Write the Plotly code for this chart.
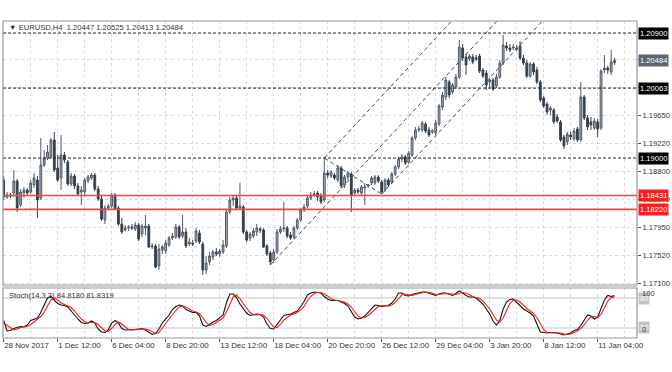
import plotly.graph_objects as go

# ---------------- data ----------------
opens = [1.18666,1.18408,1.18438,1.18468,1.18651,1.18286,1.18468,1.18514,1.18484,1.18590,
1.18666,1.18392,1.18894,1.19000,1.19016,1.19274,1.18848,1.18696,1.19046,1.18940,
1.18605,1.18727,1.18575,1.18484,1.18484,1.18651,1.18696,1.18742,1.18529,1.18377,
1.18058,1.18240,1.18271,1.18438,1.18240,1.17997,1.17906,1.17936,1.17952,1.17921,
1.17982,1.17845,1.17936,1.17967,1.17648,1.17663,1.17359,1.17602,1.17587,1.17678,
1.17784,1.17800,1.17952,1.17815,1.17876,1.17693,1.17708,1.17739,1.17860,1.17693,
1.17298,1.17420,1.17496,1.17572,1.17541,1.17572,1.17663,1.18180,1.18362,1.18392,
1.18240,1.18256,1.17876,1.17784,1.17815,1.17876,1.17921,1.17906,1.17663,1.17556,
1.17450,1.17572,1.17876,1.17921,1.17936,1.17830,1.17800,1.17936,1.18058,1.18210,
1.18271,1.18392,1.18438,1.18468,1.18423,1.18362,1.18772,1.18727,1.18742,1.18666,
1.18848,1.18590,1.18712,1.18757,1.18468,1.18514,1.18468,1.18544,1.18575,1.18620,
1.18620,1.18712,1.18636,1.18514,1.18666,1.18636,1.18757,1.18864,1.18985,1.19016,
1.18940,1.19046,1.19304,1.19426,1.19426,1.19517,1.19426,1.19396,1.19380,1.19517,
1.19776,1.19928,1.20156,1.20004,1.20080,1.20232,1.20672,1.20536,1.20505,1.20536,
1.20520,1.20551,1.20338,1.20292,1.20156,1.20186,1.20095,1.20232,1.20444,1.20703,
1.20672,1.20672,1.20672,1.20703,1.20520,1.20444,1.20247,1.20429,1.20338,1.20156,
1.19912,1.19821,1.19730,1.19730,1.19624,1.19548,1.19320,1.19244,1.19350,1.19289,
1.19441,1.19274,1.19928,1.19608,1.19548,1.19456,1.19548,1.19456,1.20338,1.20368,
1.20308,1.20447]
highs = [1.18727,1.18484,1.18468,1.18818,1.18681,1.18529,1.18560,1.18544,1.18666,1.18772,
1.18727,1.19304,1.19122,1.19198,1.19304,1.19396,1.19046,1.19350,1.19092,1.18970,
1.18772,1.18757,1.18620,1.18575,1.18696,1.18742,1.18772,1.18772,1.18575,1.18423,
1.18286,1.18301,1.18468,1.18468,1.18271,1.18088,1.17982,1.17982,1.17997,1.18028,
1.18012,1.17997,1.18134,1.17997,1.17708,1.17693,1.17693,1.17678,1.17754,1.17815,
1.17860,1.17997,1.17982,1.18134,1.17936,1.17784,1.17754,1.17936,1.17906,1.17724,
1.17511,1.17572,1.17602,1.17632,1.17617,1.17754,1.18210,1.18408,1.18423,1.18423,
1.18620,1.18286,1.17906,1.17876,1.17936,1.17997,1.17952,1.17936,1.17693,1.17587,
1.17617,1.17921,1.17967,1.18332,1.17967,1.17876,1.17967,1.18088,1.18240,1.18301,
1.18423,1.18484,1.18499,1.18499,1.18468,1.19000,1.18818,1.18818,1.18772,1.18894,
1.18879,1.18742,1.18803,1.18788,1.18544,1.18544,1.18590,1.18620,1.18605,1.18727,
1.18742,1.18742,1.18666,1.18696,1.18696,1.18788,1.18894,1.19016,1.19061,1.19046,
1.19107,1.19335,1.19472,1.19487,1.19563,1.19548,1.19472,1.19441,1.19578,1.19821,
1.20004,1.20232,1.20186,1.20140,1.20277,1.20794,1.20733,1.20581,1.20581,1.20581,
1.20566,1.20581,1.20368,1.20338,1.20216,1.20216,1.20277,1.20490,1.20870,1.20764,
1.20733,1.20733,1.20718,1.20779,1.20566,1.20490,1.20460,1.20460,1.20384,1.20186,
1.19943,1.19852,1.19791,1.19760,1.19669,1.19578,1.19350,1.19396,1.19396,1.19456,
1.19472,1.20156,1.19958,1.19654,1.19624,1.19608,1.19593,1.20353,1.20566,1.20399,
1.20642,1.20525]
lows = [1.18362,1.18377,1.18392,1.18408,1.18180,1.18256,1.18392,1.18423,1.18453,1.18544,
1.18088,1.18362,1.18864,1.18970,1.18985,1.18788,1.18636,1.18514,1.18924,1.18575,
1.18575,1.18529,1.18423,1.18286,1.18438,1.18620,1.18666,1.18499,1.18347,1.18043,
1.17997,1.18210,1.18240,1.18210,1.17967,1.17845,1.17891,1.17891,1.17906,1.17891,
1.17739,1.17800,1.17830,1.17632,1.17617,1.17328,1.17298,1.17541,1.17541,1.17648,
1.17754,1.17769,1.17769,1.17784,1.17632,1.17663,1.17663,1.17708,1.17693,1.17222,
1.17237,1.17374,1.17450,1.17511,1.17496,1.17541,1.17632,1.18149,1.18271,1.18210,
1.18210,1.17845,1.17724,1.17739,1.17784,1.17815,1.17860,1.17632,1.17511,1.17374,
1.17404,1.17541,1.17845,1.17876,1.17784,1.17754,1.17769,1.17906,1.18028,1.18180,
1.18240,1.18362,1.18408,1.18347,1.18301,1.18332,1.18696,1.18696,1.18666,1.18636,
1.18544,1.18544,1.18666,1.18180,1.18423,1.18453,1.18438,1.18286,1.18544,1.18590,
1.18590,1.18620,1.18453,1.18484,1.18560,1.18605,1.18727,1.18833,1.18940,1.18894,
1.18909,1.19016,1.19274,1.19396,1.19396,1.19380,1.19320,1.19365,1.19350,1.19487,
1.19730,1.19882,1.19912,1.19973,1.20049,1.20201,1.20475,1.20262,1.20475,1.20429,
1.20475,1.20292,1.20216,1.20034,1.20064,1.20019,1.20064,1.20201,1.20414,1.20627,
1.20612,1.20642,1.20627,1.20490,1.20414,1.20216,1.20216,1.20262,1.20125,1.19852,
1.19760,1.19654,1.19654,1.19517,1.19532,1.19244,1.19137,1.19198,1.19274,1.19259,
1.19244,1.19244,1.19578,1.19426,1.19426,1.19426,1.19320,1.19426,1.20292,1.20277,
1.20262,1.20413]
closes = [1.18408,1.18438,1.18423,1.18651,1.18240,1.18484,1.18514,1.18468,1.18620,1.18696,
1.18362,1.18894,1.19000,1.19092,1.19274,1.18818,1.18666,1.19046,1.18970,1.18605,
1.18727,1.18575,1.18453,1.18514,1.18666,1.18712,1.18742,1.18529,1.18377,1.18073,
1.18240,1.18271,1.18438,1.18225,1.17997,1.17876,1.17936,1.17952,1.17936,1.17982,
1.17769,1.17967,1.17967,1.17648,1.17663,1.17344,1.17617,1.17648,1.17708,1.17784,
1.17815,1.17952,1.17800,1.17876,1.17663,1.17724,1.17693,1.17891,1.17724,1.17298,
1.17404,1.17511,1.17572,1.17541,1.17587,1.17678,1.18180,1.18362,1.18392,1.18240,
1.18271,1.17876,1.17754,1.17845,1.17891,1.17936,1.17906,1.17648,1.17541,1.17420,
1.17572,1.17876,1.17921,1.17936,1.17815,1.17784,1.17936,1.18058,1.18210,1.18256,
1.18392,1.18438,1.18453,1.18408,1.18332,1.18772,1.18742,1.18788,1.18696,1.18848,
1.18575,1.18712,1.18772,1.18438,1.18514,1.18484,1.18560,1.18560,1.18590,1.18696,
1.18712,1.18651,1.18484,1.18666,1.18590,1.18757,1.18864,1.18985,1.19016,1.18924,
1.19076,1.19304,1.19426,1.19441,1.19532,1.19411,1.19350,1.19411,1.19532,1.19791,
1.19958,1.20186,1.19958,1.20110,1.20232,1.20688,1.20520,1.20414,1.20551,1.20460,
1.20505,1.20323,1.20247,1.20110,1.20186,1.20049,1.20232,1.20444,1.20718,1.20672,
1.20642,1.20688,1.20657,1.20520,1.20444,1.20247,1.20429,1.20308,1.20156,1.19882,
1.19791,1.19700,1.19760,1.19548,1.19563,1.19274,1.19183,1.19365,1.19320,1.19411,
1.19274,1.19928,1.19608,1.19472,1.19502,1.19563,1.19441,1.20323,1.20368,1.20338,
1.20460,1.20484]

stoch_k = [35,14,15,19,21,23,22,26,35,37,40,51,65,80,83,76,69,66,65,62,
55,46,38,31,29,30,34,30,18,12,11,16,30,35,30,19,16,16,16,17,
18,19,16,12,7,9,18,30,38,46,57,63,66,64,57,54,51,51,45,26,
23,27,32,35,40,46,70,88,88,81,68,58,50,45,46,48,47,42,28,19,
18,26,36,45,46,48,51,54,63,73,86,90,92,91,90,83,78,75,75,75,
72,69,64,52,42,38,40,44,51,58,66,65,63,64,65,70,78,90,90,85,
84,87,89,91,92,92,90,87,85,88,90,90,88,85,89,94,90,85,82,82,
80,74,68,58,48,34,26,35,58,72,77,78,72,65,58,54,50,44,28,12,
11,10,11,11,10,8,6,8,10,15,17,25,36,46,44,38,42,60,76,85,
83,84.818]
stoch_d = [30,25,20,16,18,21,22,23,27,32,37,43,52,65,76,80,76,70,67,64,
61,54,46,38,33,30,31,31,27,20,14,13,19,27,32,28,22,17,16,16,
17,18,18,16,12,9,11,19,29,38,47,55,62,64,62,58,54,52,49,41,
31,25,27,31,36,40,52,68,82,86,79,69,59,51,47,46,47,46,39,30,
22,21,27,36,42,46,48,51,56,63,74,83,89,91,91,88,84,79,76,75,
74,72,68,62,53,44,40,41,45,51,58,63,65,64,64,66,71,79,86,88,
86,85,87,89,91,92,91,90,87,87,88,89,89,88,87,89,91,90,86,83,
81,79,74,67,58,47,36,32,40,55,69,76,76,72,65,59,54,49,41,28,
17,11,11,11,11,10,8,7,8,11,14,19,26,36,42,43,41,47,59,74,
81,81.8319]

tick_bars = [0, 16, 32, 48, 64, 80, 96, 112, 128, 144, 160, 176]
tick_labels = ["28 Nov 2017", "1 Dec 12:00", "6 Dec 04:00", "8 Dec 20:00", "13 Dec 12:00",
               "18 Dec 04:00", "20 Dec 20:00", "26 Dec 12:00", "29 Dec 04:00",
               "3 Jan 20:00", "8 Jan 12:00", "11 Jan 04:00"]
price_ticks = [1.17100, 1.17520, 1.17950, 1.18370, 1.18800, 1.19220, 1.19650, 1.20070, 1.20500]
price_tick_text = ["1.17100", "1.17520", "1.17950", "1.18370", "1.18800", "1.19220", "1.19650", "", ""]
black_levels = [1.20900, 1.20063, 1.19000]
red_levels = [1.18431, 1.18220]
pitch_bars = [79, 95, 112]  # low, high, low anchors of the pitchfork

# ---------------- figure ----------------
FONT = "Liberation Sans, Arial, sans-serif"
bars = list(range(len(closes)))
fig = go.Figure()

fig.add_trace(go.Candlestick(
    x=bars, open=opens, high=highs, low=lows, close=closes,
    increasing=dict(line=dict(color="#4f5a66", width=1), fillcolor="#a7afb8"),
    decreasing=dict(line=dict(color="#34404d", width=1), fillcolor="#34404d"),
    whiskerwidth=0, xaxis="x", yaxis="y", showlegend=False, hoverinfo="skip"))

# Andrew's pitchfork from the three anchor bars
i1, i2, i3 = pitch_bars
p1, p2, p3 = lows[i1], highs[i2], lows[i3]
mid_i, mid_p = (i2 + i3) / 2, (p2 + p3) / 2
slope = (mid_p - p1) / (mid_i - i1)
far = 230
pf_style = dict(color="#4a4a4a", width=1, dash="4px,3px")
for (ia, pa) in [(i1, p1), (i2, p2), (i3, p3)]:
    fig.add_trace(go.Scatter(x=[ia, far], y=[pa, pa + slope * (far - ia)], mode="lines",
                             line=pf_style, showlegend=False, hoverinfo="skip"))
fig.add_trace(go.Scatter(x=[i2, i3], y=[p2, p3], mode="lines", line=pf_style,
                         showlegend=False, hoverinfo="skip"))

# stochastic
fig.add_trace(go.Scatter(x=bars, y=stoch_k, mode="lines", line=dict(color="#111111", width=1.1),
                         xaxis="x", yaxis="y2", showlegend=False, hoverinfo="skip"))
fig.add_trace(go.Scatter(x=bars, y=stoch_d, mode="lines", line=dict(color="#ff1a1a", width=1.1),
                         xaxis="x", yaxis="y2", showlegend=False, hoverinfo="skip"))

shapes = []
for lv in black_levels:
    shapes.append(dict(type="line", xref="x domain", yref="y", x0=0, x1=1, y0=lv, y1=lv,
                       line=dict(color="#222222", width=1, dash="3px,2px"), layer="above"))
for lv in red_levels:
    shapes.append(dict(type="line", xref="x domain", yref="y", x0=0, x1=1, y0=lv, y1=lv,
                       line=dict(color="#f04848", width=1.6), layer="above"))
for lv in [80, 20]:
    shapes.append(dict(type="line", xref="x domain", yref="y2", x0=0, x1=1, y0=lv, y1=lv,
                       line=dict(color="#c4c4c4", width=1), layer="below"))

MAIN_DOM = [0.1672, 1.0]
STO_DOM = [0.0, 0.1577]
# panel frames
shapes.append(dict(type="rect", xref="paper", yref="paper", x0=0, x1=1, y0=MAIN_DOM[0], y1=1,
                   line=dict(color="#8d99a5", width=1.2)))
shapes.append(dict(type="rect", xref="paper", yref="paper", x0=0, x1=1, y0=0, y1=STO_DOM[1],
                   line=dict(color="#8d99a5", width=1.2)))
shapes.append(dict(type="rect", xref="paper", yref="paper", x0=0, x1=1, y0=STO_DOM[1], y1=MAIN_DOM[0],
                   line=dict(width=0), fillcolor="#c9ced3"))

annotations = [
    dict(xref="paper", yref="paper", x=0, y=1, xanchor="left", yanchor="top", xshift=4, yshift=0,
         text="▼ EURUSD,H4  1.20447 1.20525 1.20413 1.20484", showarrow=False,
         font=dict(family=FONT, size=7.6, color="#333333")),
    dict(xref="paper", yref="paper", x=0, y=STO_DOM[1], xanchor="left", yanchor="top", xshift=4, yshift=-1,
         text="Stoch(14,3,3) 84.8180 81.8319", showarrow=False,
         font=dict(family=FONT, size=7.6, color="#333333")),
]
box_font = dict(family=FONT, size=7.6, color="#ffffff")
level_boxes = [(1.20900, "#000000"), (closes[-1], "#5b6670"), (1.20063, "#000000"),
               (1.19000, "#000000"), (1.18431, "#ff1c1c"), (1.18220, "#ff1c1c")]
for lv, col in level_boxes:
    annotations.append(dict(xref="paper", yref="y", x=1, y=lv, xanchor="left", yanchor="middle",
                            xshift=1, text="%.5f" % lv, showarrow=False, bgcolor=col,
                            borderpad=1, font=box_font))
for lv, txt in [(80, "80"), (20, "20")]:
    annotations.append(dict(xref="paper", yref="y2", x=1, y=lv, xanchor="left", yanchor="middle",
                            xshift=1, text=txt, showarrow=False, bgcolor="#c4c4c4",
                            borderpad=1, font=dict(family=FONT, size=7.6, color="#ffffff")))
annotations.append(dict(xref="paper", yref="paper", x=1, y=STO_DOM[1], xanchor="left", yanchor="top",
                        xshift=3, yshift=1, text="100", showarrow=False,
                        font=dict(family=FONT, size=7.6, color="#333333")))
annotations.append(dict(xref="paper", yref="paper", x=1, y=0, xanchor="left", yanchor="bottom",
                        xshift=3, yshift=2, text="0", showarrow=False,
                        font=dict(family=FONT, size=7.6, color="#333333")))

grid = dict(showgrid=True, gridcolor="#dadada", gridwidth=1, griddash="3px,3px")
fig.update_layout(
    width=672, height=372,
    margin=dict(l=3, r=35, t=21, b=34, autoexpand=False),
    paper_bgcolor="#ffffff", plot_bgcolor="#ffffff",
    showlegend=False, boxgap=0.25,
    xaxis=dict(range=[-0.2, 187.65], anchor="y2", tickmode="array", tickvals=tick_bars,
               ticktext=tick_labels, ticks="outside", ticklen=3, tickcolor="#555555",
               ticklabelposition="outside right", tickangle=0, automargin=False,
               tickfont=dict(family=FONT, size=7.9, color="#333333"),
               showline=False, zeroline=False, rangeslider=dict(visible=False),
               minor=dict(tickvals=list(range(8, 188, 16)), showgrid=True, gridcolor="#dadada",
                          griddash="3px,3px", ticks=""),
               **grid),
    yaxis=dict(domain=MAIN_DOM, range=[1.17070, 1.21083], side="right", tickmode="array",
               tickvals=price_ticks, ticktext=price_tick_text,
               ticks="outside", ticklen=3, tickcolor="#555555", automargin=False,
               tickfont=dict(family=FONT, size=7.6, color="#333333"),
               zeroline=False, showline=False, **grid),
    yaxis2=dict(domain=STO_DOM, range=[0, 100], side="right", showticklabels=False,
                showgrid=False, zeroline=False, showline=False, automargin=False),
    shapes=shapes, annotations=annotations,
)

fig.write_html("out.html", config={"displayModeBar": False},
               post_script="document.body.style.margin='0';document.body.style.padding='0';"
                           "document.body.style.overflow='hidden';")
